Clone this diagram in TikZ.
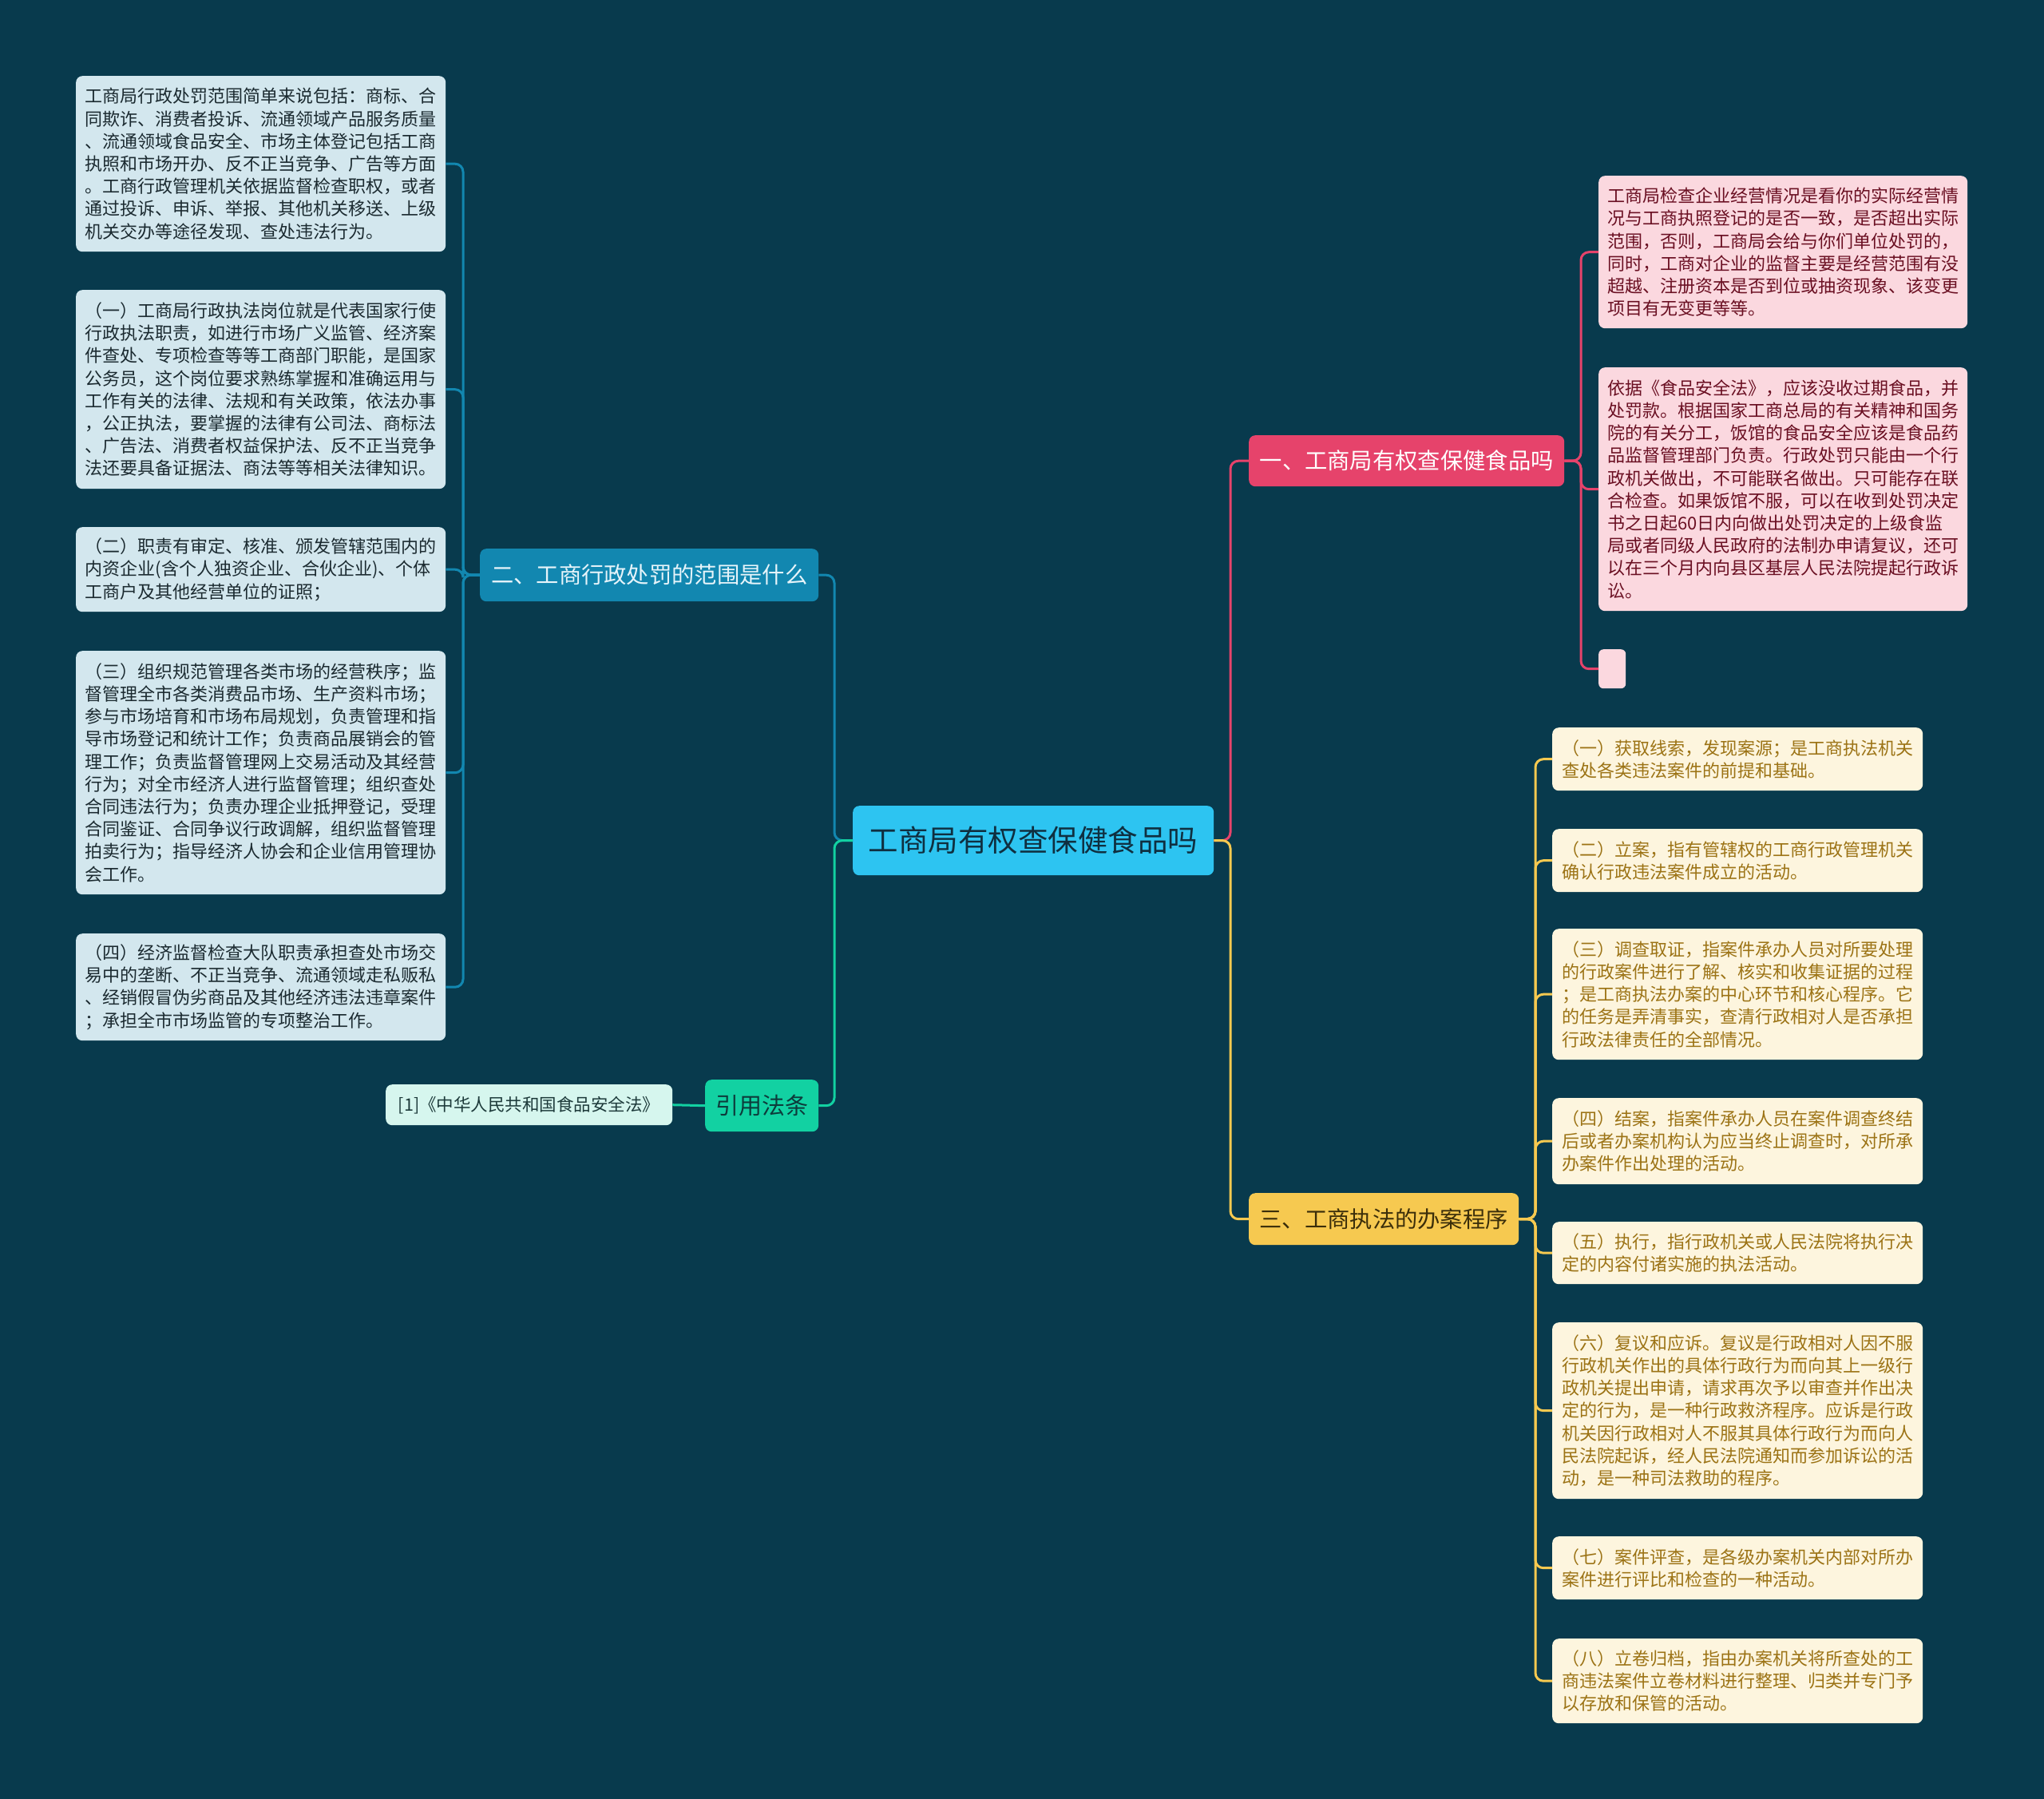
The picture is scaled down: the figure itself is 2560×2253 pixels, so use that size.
\documentclass[tikz,border=0pt]{standalone}
\usepackage{fontspec}
\newfontfamily\cjk{Noto Sans CJK SC}
\definecolor{bgc}{HTML}{083A4D}
\definecolor{cfill}{HTML}{2DC4F1}
\definecolor{ctext}{HTML}{0F2F40}
\definecolor{bluef}{HTML}{1287B0}
\definecolor{bluet}{HTML}{E6F4FA}
\definecolor{greenf}{HTML}{12D1A2}
\definecolor{greent}{HTML}{0D3B3B}
\definecolor{citef}{HTML}{D6F6EE}
\definecolor{citet}{HTML}{1D3A3A}
\definecolor{pinkf}{HTML}{E6436B}
\definecolor{yellf}{HTML}{F6C950}
\definecolor{yellt}{HTML}{3B2E0A}
\definecolor{lbf}{HTML}{D3E7EE}
\definecolor{lbt}{HTML}{1B2A30}
\definecolor{lpf}{HTML}{FBD8DF}
\definecolor{lpt}{HTML}{6A0F22}
\definecolor{lyf}{HTML}{FDF5DE}
\definecolor{lyt}{HTML}{9C7315}
\begin{document}
\begin{tikzpicture}[x=1pt,y=-1pt,
  box/.style={rounded corners=8pt, anchor=north west, inner sep=0pt, align=left},
  leaftext/.style={font=\cjk\fontsize{22}{28.2}\selectfont},
  leafL/.style={box, leaftext, fill=lbf, text=lbt, minimum width=463pt},
  leafP/.style={box, leaftext, fill=lpf, text=lpt, minimum width=462pt},
  leafY/.style={box, leaftext, fill=lyf, text=lyt, minimum width=464pt},
  branchtext/.style={font=\cjk\fontsize{28.3}{34}\selectfont},
  conn/.style={line width=3pt, rounded corners=10pt},
]
\useasboundingbox (0,0) rectangle (2560,2253);
\fill[bgc] (0,0) rectangle (2560,2253);

% central node
\node[box, fill=cfill, text=ctext, minimum width=452pt, minimum height=87pt,
  font=\cjk\fontsize{37.5}{44}\selectfont] (c) at (1068,1009) {工商局有权查保健食品吗};

% main branches
\node[box, branchtext, fill=bluef, text=bluet, minimum width=424pt, minimum height=66pt] (b2) at (601,687) {二、工商行政处罚的范围是什么};
\node[box, fill=greenf, text=greent, minimum width=142pt, minimum height=65pt,
  font=\cjk\fontsize{29}{34}\selectfont] (yin) at (883,1352) {引用法条};
\node[box, fill=citef, text=citet, minimum width=359pt, minimum height=51pt,
  font=\cjk\fontsize{21.5}{26}\selectfont] (cite) at (483,1358) {[1]《中华人民共和国食品安全法》};
\node[box, branchtext, fill=pinkf, text=white, minimum width=395pt, minimum height=64pt] (b1) at (1564,545) {一、工商局有权查保健食品吗};
\node[box, branchtext, fill=yellf, text=yellt, minimum width=338pt, minimum height=65pt] (b3) at (1564,1494) {三、工商执法的办案程序};

% left leaves
\node[leafL, minimum height=220pt] (L1) at (95,95) {工商局行政处罚范围简单来说包括：商标、合\\同欺诈、消费者投诉、流通领域产品服务质量\\、流通领域食品安全、市场主体登记包括工商\\执照和市场开办、反不正当竞争、广告等方面\\。工商行政管理机关依据监督检查职权，或者\\通过投诉、申诉、举报、其他机关移送、上级\\机关交办等途径发现、查处违法行为。};
\node[leafL, minimum height=249pt] (L2) at (95,363) {（一）工商局行政执法岗位就是代表国家行使\\行政执法职责，如进行市场广义监管、经济案\\件查处、专项检查等等工商部门职能，是国家\\公务员，这个岗位要求熟练掌握和准确运用与\\工作有关的法律、法规和有关政策，依法办事\\，公正执法，要掌握的法律有公司法、商标法\\、广告法、消费者权益保护法、反不正当竞争\\法还要具备证据法、商法等等相关法律知识。};
\node[leafL, minimum height=106pt] (L3) at (95,660) {（二）职责有审定、核准、颁发管辖范围内的\\内资企业(含个人独资企业、合伙企业)、个体\\工商户及其他经营单位的证照；};
\node[leafL, minimum height=305pt] (L4) at (95,815) {（三）组织规范管理各类市场的经营秩序；监\\督管理全市各类消费品市场、生产资料市场；\\参与市场培育和市场布局规划，负责管理和指\\导市场登记和统计工作；负责商品展销会的管\\理工作；负责监督管理网上交易活动及其经营\\行为；对全市经济人进行监督管理；组织查处\\合同违法行为；负责办理企业抵押登记，受理\\合同鉴证、合同争议行政调解，组织监督管理\\拍卖行为；指导经济人协会和企业信用管理协\\会工作。};
\node[leafL, minimum height=134pt] (L5) at (95,1169) {（四）经济监督检查大队职责承担查处市场交\\易中的垄断、不正当竞争、流通领域走私贩私\\、经销假冒伪劣商品及其他经济违法违章案件\\；承担全市市场监管的专项整治工作。};

% pink leaves
\node[leafP, minimum height=191pt] (R1) at (2002,220) {工商局检查企业经营情况是看你的实际经营情\\况与工商执照登记的是否一致，是否超出实际\\范围，否则，工商局会给与你们单位处罚的，\\同时，工商对企业的监督主要是经营范围有没\\超越、注册资本是否到位或抽资现象、该变更\\项目有无变更等等。};
\node[leafP, minimum height=305pt] (R2) at (2002,460) {依据《食品安全法》，应该没收过期食品，并\\处罚款。根据国家工商总局的有关精神和国务\\院的有关分工，饭馆的食品安全应该是食品药\\品监督管理部门负责。行政处罚只能由一个行\\政机关做出，不可能联名做出。只可能存在联\\合检查。如果饭馆不服，可以在收到处罚决定\\书之日起60日内向做出处罚决定的上级食监\\局或者同级人民政府的法制办申请复议，还可\\以在三个月内向县区基层人民法院提起行政诉\\讼。};
\node[box, fill=lpf, minimum width=34pt, minimum height=49pt, rounded corners=6pt] (R3) at (2002,813) {};

% yellow leaves
\node[leafY, minimum height=79pt] (Y1) at (1944,911) {（一）获取线索，发现案源；是工商执法机关\\查处各类违法案件的前提和基础。};
\node[leafY, minimum height=79pt] (Y2) at (1944,1038) {（二）立案，指有管辖权的工商行政管理机关\\确认行政违法案件成立的活动。};
\node[leafY, minimum height=164pt] (Y3) at (1944,1163) {（三）调查取证，指案件承办人员对所要处理\\的行政案件进行了解、核实和收集证据的过程\\；是工商执法办案的中心环节和核心程序。它\\的任务是弄清事实，查清行政相对人是否承担\\行政法律责任的全部情况。};
\node[leafY, minimum height=108pt] (Y4) at (1944,1375) {（四）结案，指案件承办人员在案件调查终结\\后或者办案机构认为应当终止调查时，对所承\\办案件作出处理的活动。};
\node[leafY, minimum height=78pt] (Y5) at (1944,1530) {（五）执行，指行政机关或人民法院将执行决\\定的内容付诸实施的执法活动。};
\node[leafY, minimum height=221pt] (Y6) at (1944,1656) {（六）复议和应诉。复议是行政相对人因不服\\行政机关作出的具体行政行为而向其上一级行\\政机关提出申请，请求再次予以审查并作出决\\定的行为，是一种行政救济程序。应诉是行政\\机关因行政相对人不服其具体行政行为而向人\\民法院起诉，经人民法院通知而参加诉讼的活\\动，是一种司法救助的程序。};
\node[leafY, minimum height=79pt] (Y7) at (1944,1924) {（七）案件评查，是各级办案机关内部对所办\\案件进行评比和检查的一种活动。};
\node[leafY, minimum height=106pt] (Y8) at (1944,2052) {（八）立卷归档，指由办案机关将所查处的工\\商违法案件立卷材料进行整理、归类并专门予\\以存放和保管的活动。};

% bus coordinates
\coordinate (busC) at (1045,1052.5);
\coordinate (busR) at (1541,1052.5);
\coordinate (busL) at (580,720);
\coordinate (bus1) at (1980,577);
\coordinate (bus3) at (1923,1526.5);

% connectors
\draw[conn, color=bluef] (c.west) -- (busC) |- (b2.east);
\draw[conn, color=greenf] (c.west) -- (busC) |- (yin.east);
\draw[conn, color=greenf] (yin.west) -- (cite.east);
\draw[conn, color=pinkf] (c.east) -- (busR) |- (b1.west);
\draw[conn, color=yellf] (c.east) -- (busR) |- (b3.west);
\foreach \n in {L1,L2,L3,L4,L5}{
  \draw[conn, color=bluef] (b2.west) -- (busL) |- (\n.east);
}
\foreach \n in {R1,R2,R3}{
  \draw[conn, color=pinkf] (b1.east) -- (bus1) |- (\n.west);
}
\foreach \n in {Y1,Y2,Y3,Y4,Y5,Y6,Y7,Y8}{
  \draw[conn, color=yellf] (b3.east) -- (bus3) |- (\n.west);
}
\end{tikzpicture}
\end{document}
